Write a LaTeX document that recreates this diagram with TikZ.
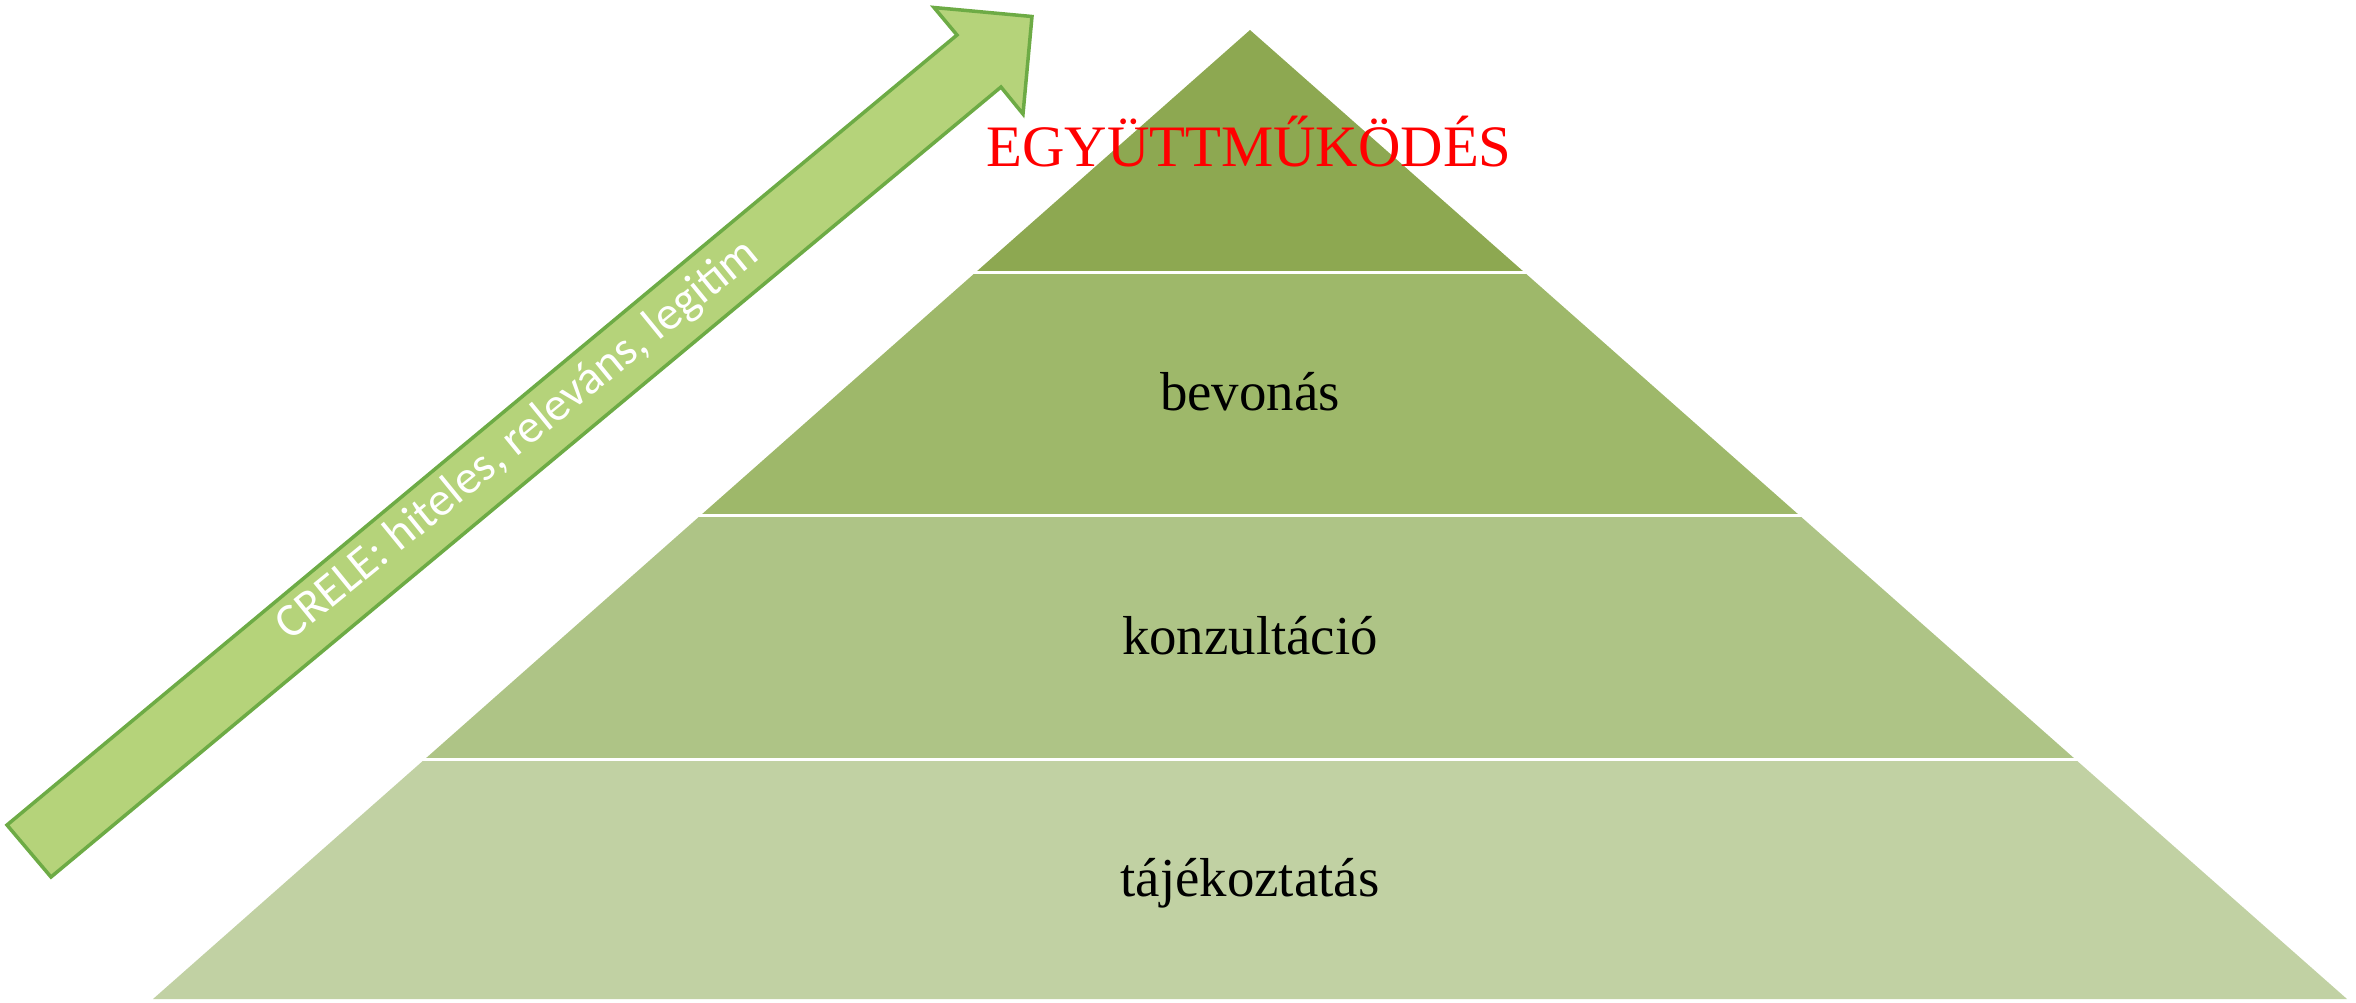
\documentclass[tikz,border=0pt]{standalone}
\usepackage{fontspec}
\setmainfont{Liberation Serif}
\newfontfamily\arrowfont{Carlito}
\usepackage[usenames]{xcolor}
\usepackage{tikz}
\definecolor{layer_one}{HTML}{8DA851}
\definecolor{layer_two}{HTML}{9EB86A}
\definecolor{layer_three}{HTML}{AEC486}
\definecolor{layer_four}{HTML}{C1D1A3}
\definecolor{arrow_fill}{HTML}{B5D37A}
\definecolor{arrow_line}{HTML}{6DAB45}
\tikzset{my_pyramid/.style={x=0.01cm,y=-0.01cm}}
\tikzset{my_layer/.style={draw=white, line width=0.03cm}}
\tikzset{my_arrow/.style={fill=arrow_fill, draw=arrow_line, line width=0.035cm, line join=miter}}
\tikzset{my_label/.style={anchor=base, inner sep=0pt, font=\fontsize{15.6}{19}\selectfont}}
\tikzset{my_arrow_label/.style={anchor=base, text=white, inner sep=0pt, rotate=39.2, font=\arrowfont\fontsize{13.5}{16}\selectfont}}

\begin{document}
\begin{tikzpicture}[my_pyramid]
    \useasboundingbox (0,0) rectangle (2356,1002);
    %\draw[help lines] (0,0) grid (2356,1002);
    \fill[layer_one] (1250,30) -- (1524,272) -- (976,272) -- cycle;
    \fill[layer_two] (976,272) -- (1524,272) -- (1799,515) -- (701,515) -- cycle;
    \fill[layer_three] (701,515) -- (1799,515) -- (2075,759) -- (425,759) -- cycle;
    \fill[layer_four] (425,759) -- (2075,759) -- (2347,999) -- (153,999) -- cycle;
    \draw[my_layer] (960,272) -- (1540,272);
    \draw[my_layer] (685,515) -- (1815,515);
    \draw[my_layer] (409,759) -- (2091,759);

    \draw[my_arrow] (7,825) -- (957,35) -- (934,7.5) -- (1032,16.5)
        -- (1023,114) -- (1001,87) -- (51,877) -- cycle;

    \node[my_label, text=red, font=\fontsize{16.7}{20}\selectfont] (egyutt) at (1249,166) {EGYÜTTMŰKÖDÉS};
    \node[my_label] (bevon) at (1250,410) {bevonás};
    \node[my_label] (konz) at (1250,654) {konzultáció};
    \node[my_label] (taj) at (1250,896) {tájékoztatás};
    \node[my_arrow_label] (crele) at (526,450) {CRELE: hiteles, releváns, legitim};
\end{tikzpicture}
\end{document}
